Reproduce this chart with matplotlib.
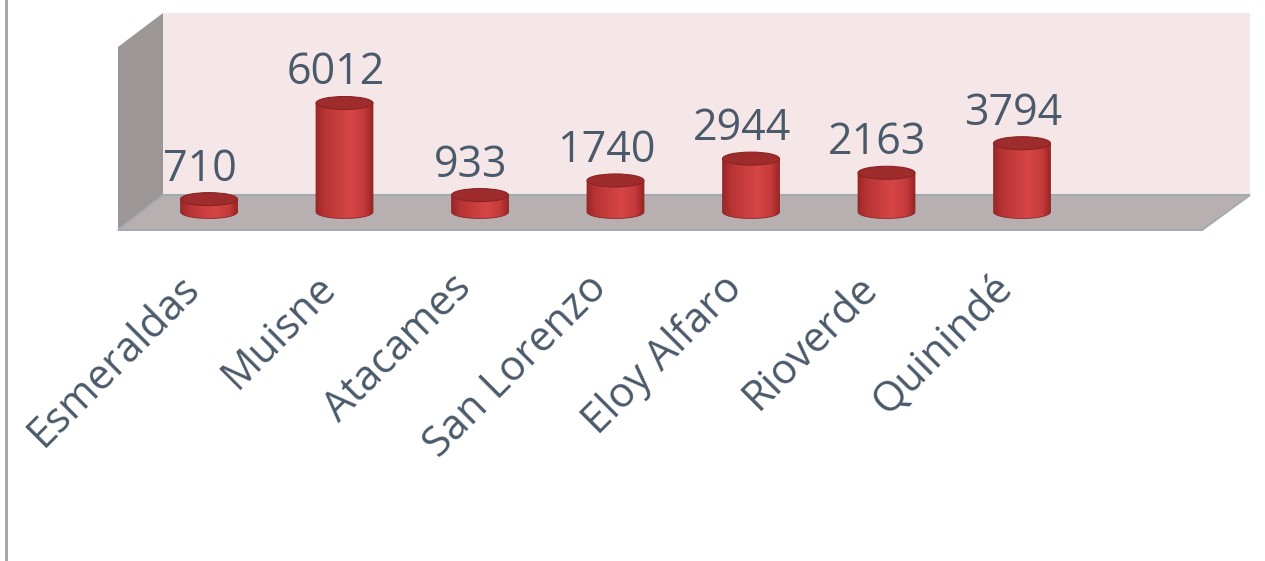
import matplotlib.pyplot as plt
import numpy as np
from matplotlib.patches import Polygon, Ellipse
from matplotlib.colors import LinearSegmentedColormap

# data
cantones = ['Esmeraldas', 'Muisne', 'Atacames', 'San Lorenzo', 'Eloy Alfaro', 'Rioverde', 'Quinindé']
valores = [710, 6012, 933, 1740, 2944, 2163, 3794]

W, H = 1265, 561
txt_color = '#4b5a6a'
plt.rcParams['font.family'] = ['Open Sans', 'DejaVu Sans']

fig = plt.figure(figsize=(W / 100, H / 100), dpi=100)

# background axes in pixel units (walls and floor of the 3d box)
bg = fig.add_axes([0, 0, 1, 1])
bg.set_xlim(0, W)
bg.set_ylim(H, 0)
bg.axis('off')

bg.add_patch(Polygon([(163, 13), (1250, 13), (1250, 195), (163, 195)], fc='#f5e7e8', ec='none'))
bg.add_patch(Polygon([(118, 47), (163, 13), (163, 195), (118, 230)], fc='#9d9696', ec='none'))
bg.add_patch(Polygon([(118, 230), (163, 195), (1250, 195), (1202, 230)], fc='#b8b0b0',
                     ec='#a4aab2', lw=1.5))
bg.plot([6, 6], [0, H], color='#9ea3aa', lw=2)

# data axes on top, scaled so category 0 sits at x=209px and value 0 at y=212px
ax = fig.add_axes([0, 0, 1, 1])
ax.axis('off')
ax.patch.set_alpha(0)
x0px, dxpx = 209, 135.5
y0px, pxper = 212, 109 / 6012

w = 0.42
ry = 6.5 / pxper

cmap = LinearSegmentedColormap.from_list('cyl', [(0, '#9c2727'), (0.15, '#b83434'),
                                                 (0.6, '#d64646'), (0.85, '#c43a3a'),
                                                 (1, '#982424')])
grad = np.linspace(0, 1, 256)[None, :]

for i, (c, v) in enumerate(zip(cantones, valores)):
    t = np.linspace(np.pi, 2 * np.pi, 40)
    bottom = np.column_stack([i + w / 2 * np.cos(t), ry * np.sin(t)])
    verts = [(i - w / 2, v)] + list(bottom) + [(i + w / 2, v), (i - w / 2, v)]
    body = Polygon(verts, closed=True, fc='none', ec='#8e2222', lw=0.6, zorder=3)
    ax.add_patch(body)
    im = ax.imshow(grad, cmap=cmap, extent=[i - w / 2, i + w / 2, -ry, v],
                   aspect='auto', zorder=2)
    im.set_clip_path(body)
    ax.add_patch(Ellipse((i, v), w, 2 * ry, fc='#9e2c2c', ec='#8a2323', lw=0.8, zorder=4))
    ax.text(i - 9 / dxpx, v + ry + 12 / pxper, str(v), ha='center', va='baseline',
            fontsize=31, color=txt_color, zorder=5)
    ax.text(i - 0.03 - 26 / dxpx, -55 / pxper, c, rotation=45, rotation_mode='anchor',
            ha='right', va='top', fontsize=30, color=txt_color)

ax.set_xlim(-x0px / dxpx, (W - x0px) / dxpx)
ax.set_ylim(-(H - y0px) / pxper, y0px / pxper)

fig.savefig('out.png', dpi=100)
